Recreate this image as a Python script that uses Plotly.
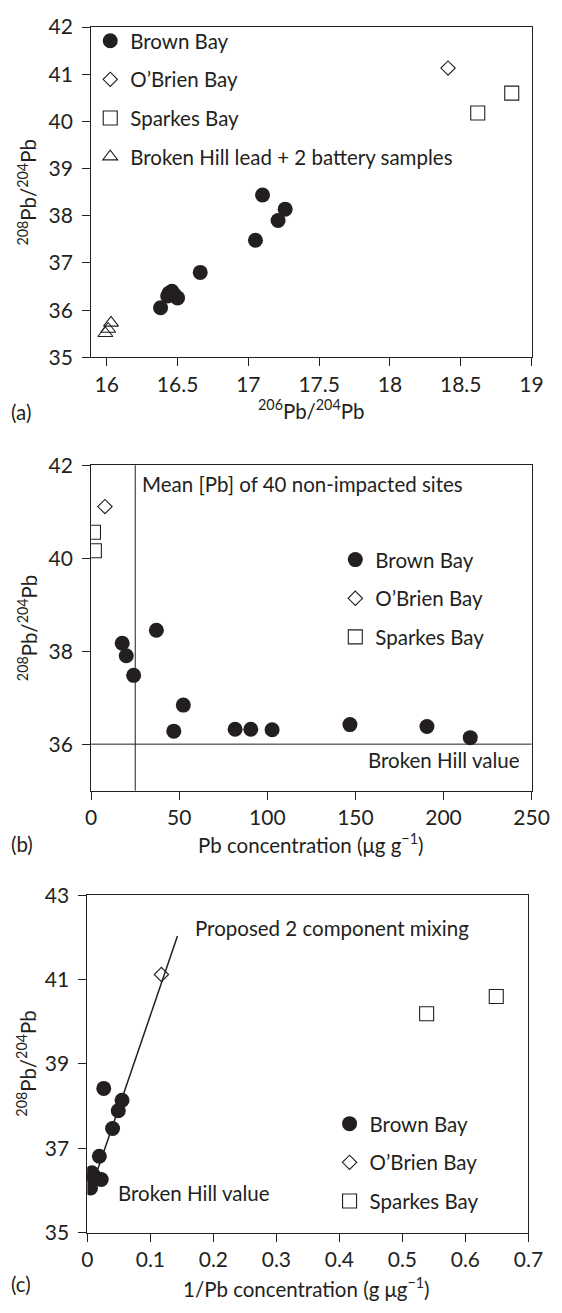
import plotly.graph_objects as go

W, H = 562, 1313
FONT = "Lato"
INK = "#231f20"

# ---------- Panel (a) data ----------
a_brown_x = [17.10, 17.26, 17.21, 17.05, 16.66, 16.46, 16.44, 16.43, 16.48, 16.50, 16.45, 16.38]
a_brown_y = [38.44, 38.14, 37.90, 37.48, 36.80, 36.40, 36.36, 36.30, 36.32, 36.26, 36.32, 36.05]
a_obrien_x = [18.41]
a_obrien_y = [41.13]
a_sparkes_x = [18.62, 18.86]
a_sparkes_y = [40.18, 40.60]
a_bh_x = [15.99, 16.01, 16.03]
a_bh_y = [35.51, 35.60, 35.73]
a_xticks = [16, 16.5, 17, 17.5, 18, 18.5, 19]
a_yticks = [35, 36, 37, 38, 39, 40, 41, 42]

# ---------- Panel (b) data ----------
b_brown_x = [37.0, 17.6, 19.9, 24.1, 52.3, 46.9, 81.7, 90.6, 102.7, 146.9, 190.6, 215.2]
b_brown_y = [38.45, 38.17, 37.90, 37.48, 36.84, 36.28, 36.32, 36.32, 36.31, 36.42, 36.38, 36.14]
b_obrien_x = [7.8]
b_obrien_y = [41.11]
b_sparkes_x = [1.3, 1.8]
b_sparkes_y = [40.56, 40.16]
mean_pb_sites = 25.0
broken_hill_value = 36.0
b_xticks = [0, 50, 100, 150, 200, 250]
b_yticks = [36, 38, 40, 42]

# ---------- Panel (c) data ----------
c_brown_x = [0.026, 0.055, 0.049, 0.040, 0.019, 0.022, 0.012, 0.011, 0.010, 0.007, 0.005, 0.005]
c_brown_y = [38.42, 38.14, 37.89, 37.47, 36.81, 36.26, 36.32, 36.32, 36.31, 36.42, 36.38, 36.06]
c_obrien_x = [0.1175]
c_obrien_y = [41.12]
c_sparkes_x = [0.5385, 0.649]
c_sparkes_y = [40.19, 40.60]
mix_x = [0.005, 0.143]
mix_y = [36.0, 42.03]
c_xticks = [0, 0.1, 0.2, 0.3, 0.4, 0.5, 0.6, 0.7]
c_yticks = [35, 37, 39, 41, 43]

names = ["Brown Bay", "O\u2019Brien Bay", "Sparkes Bay", "Broken Hill lead + 2 battery samples"]


def px_x(p):
    return p / W


def px_y(p):
    return 1 - p / H


fig = go.Figure()

circ = dict(symbol="circle", size=15, color=INK, line=dict(width=0))
diam = dict(symbol="diamond-open", size=11, color=INK, line=dict(width=1.1))
sq = dict(symbol="square-open", size=14, color=INK, line=dict(width=1.1))
tri = dict(symbol="triangle-up-open", size=13, color=INK, line=dict(width=1.1))


def add(x, y, name, mk, xa, ya, leg, grp):
    fig.add_trace(go.Scatter(x=x, y=y, mode="markers", name=name, marker=mk,
                             xaxis=xa, yaxis=ya, legend=leg, legendgroup=grp))


add(a_brown_x, a_brown_y, names[0], circ, "x", "y", "legend", "a1")
add(a_obrien_x, a_obrien_y, names[1], diam, "x", "y", "legend", "a2")
add(a_sparkes_x, a_sparkes_y, names[2], sq, "x", "y", "legend", "a3")
add(a_bh_x, a_bh_y, names[3], tri, "x", "y", "legend", "a4")

add(b_brown_x, b_brown_y, names[0], circ, "x2", "y2", "legend2", "b1")
add(b_obrien_x, b_obrien_y, names[1], diam, "x2", "y2", "legend2", "b2")
add(b_sparkes_x, b_sparkes_y, names[2], sq, "x2", "y2", "legend2", "b3")

fig.add_trace(go.Scatter(x=mix_x, y=mix_y, mode="lines", line=dict(color=INK, width=1.5),
                         xaxis="x3", yaxis="y3", showlegend=False, hoverinfo="skip"))
add(c_brown_x, c_brown_y, names[0], circ, "x3", "y3", "legend3", "c1")
add(c_obrien_x, c_obrien_y, names[1], diam, "x3", "y3", "legend3", "c2")
add(c_sparkes_x, c_sparkes_y, names[2], sq, "x3", "y3", "legend3", "c3")

axis_common = dict(showline=True, mirror=True, linecolor=INK, linewidth=1,
                   ticks="outside", ticklen=8, tickwidth=1, tickcolor=INK,
                   showgrid=False, zeroline=False,
                   tickfont=dict(family=FONT, size=21, color=INK))

fig.update_layout(
    width=W, height=H, margin=dict(l=0, r=0, t=0, b=0),
    paper_bgcolor="white", plot_bgcolor="white",
    font=dict(family=FONT, size=20.5, color=INK),
    xaxis=dict(domain=[px_x(89), px_x(549)], range=[15.89, 19], tickvals=a_xticks,
               anchor="y", ticklabelstandoff=0, **axis_common),
    yaxis=dict(domain=[px_y(350), px_y(13.3)], range=[35, 42], tickvals=a_yticks,
               anchor="x", ticklabelstandoff=5, **axis_common),
    xaxis2=dict(domain=[px_x(89), px_x(549)], range=[0, 250], tickvals=b_xticks,
                anchor="y2", ticklabelstandoff=0, **axis_common),
    yaxis2=dict(domain=[px_y(791.7), px_y(460)], range=[35, 42], tickvals=b_yticks,
                anchor="x2", ticklabelstandoff=5, **axis_common),
    xaxis3=dict(domain=[px_x(85), px_x(545.7)], range=[0, 0.7], tickvals=c_xticks,
                anchor="y3", ticklabelstandoff=0, **axis_common),
    yaxis3=dict(domain=[px_y(1242.3), px_y(898.3)], range=[35, 43], tickvals=c_yticks,
                anchor="x3", ticklabelstandoff=5, **axis_common),
    showlegend=True,
)

leg_common = dict(xanchor="left", yanchor="top", bgcolor="rgba(0,0,0,0)", borderwidth=0,
                  font=dict(family=FONT, size=20.5, color=INK), tracegroupgap=9,
                  itemclick=False, itemdoubleclick=False)
fig.update_layout(
    legend=dict(x=px_x(88), y=px_y(7), **leg_common),
    legend2=dict(x=px_x(344), y=px_y(536), **leg_common),
    legend3=dict(x=px_x(338), y=px_y(1111), **leg_common),
)

# reference lines in panel (b)
fig.add_shape(type="line", xref="x2", yref="y2 domain", x0=mean_pb_sites, x1=mean_pb_sites,
              y0=0, y1=1, line=dict(color=INK, width=1))
fig.add_shape(type="line", xref="x2 domain", yref="y2", x0=0, x1=1,
              y0=broken_hill_value, y1=broken_hill_value, line=dict(color=INK, width=1))

ann = []
tf = dict(family=FONT, size=20.5, color=INK)
tfl = dict(family=FONT, size=20.5, color=INK)
# axis titles
ann.append(dict(text="<sup>206</sup>Pb/<sup>204</sup>Pb", x=px_x(319), y=px_y(403), xref="paper",
                yref="paper", showarrow=False, xanchor="center", yanchor="middle", font=tfl))
ann.append(dict(text="Pb concentration (\u03bcg g<sup>\u22121</sup>)", x=px_x(318), y=px_y(846),
                xref="paper", yref="paper", showarrow=False, xanchor="center", yanchor="middle", font=tfl))
ann.append(dict(text="1/Pb concentration (g \u03bcg<sup>\u22121</sup>)", x=px_x(314), y=px_y(1298),
                xref="paper", yref="paper", showarrow=False, xanchor="center", yanchor="middle", font=tfl))
for yc in [182, 626, 1070]:
    ann.append(dict(text="<sup>208</sup>Pb/<sup>204</sup>Pb", x=px_x(22), y=px_y(yc), xref="paper",
                    yref="paper", showarrow=False, textangle=-90, xanchor="center",
                    yanchor="middle", font=tfl))
# panel letters
for lab, yc in [("(a)", 406), ("(b)", 846), ("(c)", 1295)]:
    ann.append(dict(text=lab, x=px_x(3), y=px_y(yc), xref="paper", yref="paper", showarrow=False,
                    xanchor="left", yanchor="middle", font=tfl))
# in-plot labels
ann.append(dict(text="Mean [Pb] of 40 non-impacted sites", x=27.7, y=41.6, xref="x2", yref="y2",
                showarrow=False, xanchor="left", yanchor="middle", font=tf))
ann.append(dict(text="Broken Hill value", x=244.7, y=35.65, xref="x2", yref="y2",
                showarrow=False, xanchor="right", yanchor="middle", font=tf))
ann.append(dict(text="Proposed 2 component mixing", x=0.167, y=42.22, xref="x3", yref="y3",
                showarrow=False, xanchor="left", yanchor="middle", font=tf))
ann.append(dict(text="Broken Hill value", x=0.0456, y=35.94, xref="x3", yref="y3",
                showarrow=False, xanchor="left", yanchor="middle", font=tf))
fig.update_layout(annotations=ann)

fig.write_html("out.html")
